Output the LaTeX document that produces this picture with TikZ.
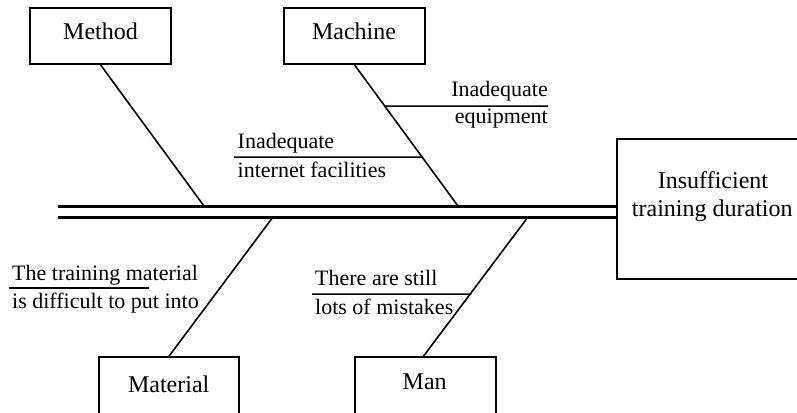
\documentclass[tikz,border=0pt]{standalone}
\usepackage{fontspec}
\setmainfont{Liberation Serif}
\begin{document}
\begin{tikzpicture}[x=1pt,y=-1pt,
  box/.style={draw, line width=1.6pt, rectangle, inner sep=0pt},
  big/.style={font=\fontsize{24}{28}\selectfont, inner sep=0pt},
  lab/.style={font=\fontsize{22}{26}\selectfont, inner sep=0pt},
  bone/.style={line width=1.6pt},
  spine/.style={line width=3pt},
  tick/.style={line width=1.5pt}]
\clip (0,0) rectangle (797,412);
% boxes
\node[box, minimum width=141pt, minimum height=56pt] (method) at (100.5,36) {};
\node[box, minimum width=141pt, minimum height=56pt] (machine) at (354.5,36) {};
\node[box, minimum width=140pt, minimum height=80pt] (material) at (169,397) {};
\node[box, minimum width=141pt, minimum height=80pt] (man) at (425.5,397) {};
\node[box, minimum width=190pt, minimum height=140pt] (effect) at (712,209) {};
% box texts
\node[big, anchor=base] (tmethod) at (100.5,39.3) {Method};
\node[big, anchor=base] (tmachine) at (354,39.3) {Machine};
\node[big, anchor=base] (tmaterial) at (168.7,392.5) {Material};
\node[big, anchor=base] (tman) at (424.7,389.3) {Man};
\node[big, anchor=base] (teff1) at (713,188.3) {Insufficient};
\node[big, anchor=base] (teff2) at (712.3,216) {training duration};
% spine
\coordinate (a1) at (58,206);
\coordinate (a2) at (58,217);
\draw[spine] (a1) -- (a1 -| effect.west);
\draw[spine] (a2) -- (a2 -| effect.west);
% bones
\coordinate (b1) at (204,206);
\coordinate (b2) at (458,206);
\coordinate (b3) at (273,217);
\coordinate (b4) at (528,217);
\draw[bone] (method.south) -- (b1);
\draw[bone] (machine.south) -- (b2);
\draw[bone] (material.north) -- (b3);
\draw[bone] ([xshift=-2pt]man.north) -- (b4);
% sub-cause lines
\coordinate (i1) at (234,157);
\coordinate (i1x) at (300,157);
\draw[tick] (i1) -- (intersection of machine.south--b2 and i1--i1x);
\coordinate (e1) at (548,106);
\coordinate (e1x) at (500,106);
\draw[tick] (intersection of machine.south--b2 and e1--e1x) -- (e1);
\coordinate (m1) at (312,294);
\coordinate (m1x) at (400,294);
\draw[tick] (m1) -- (intersection of man.north--b4 and m1--m1x);
\coordinate (t1) at (9,288);
\coordinate (t2) at (149,288);
\draw[tick] (t1) -- (t2);
% labels
\node[lab, anchor=base west] (l1) at (237.5,148) {Inadequate};
\node[lab, anchor=base west] (l2) at (237.5,177) {internet facilities};
\node[lab, anchor=base east] (l3) at (548,96) {Inadequate};
\node[lab, anchor=base east] (l4) at (548,123) {equipment};
\node[lab, anchor=base west] (l5) at (12,280) {The training material};
\node[lab, anchor=base west] (l6) at (12,308) {is difficult to put into};
\node[lab, anchor=base west] (l7) at (315,285) {There are still};
\node[lab, anchor=base west] (l8) at (315,314) {lots of mistakes};
\end{tikzpicture}
\end{document}
